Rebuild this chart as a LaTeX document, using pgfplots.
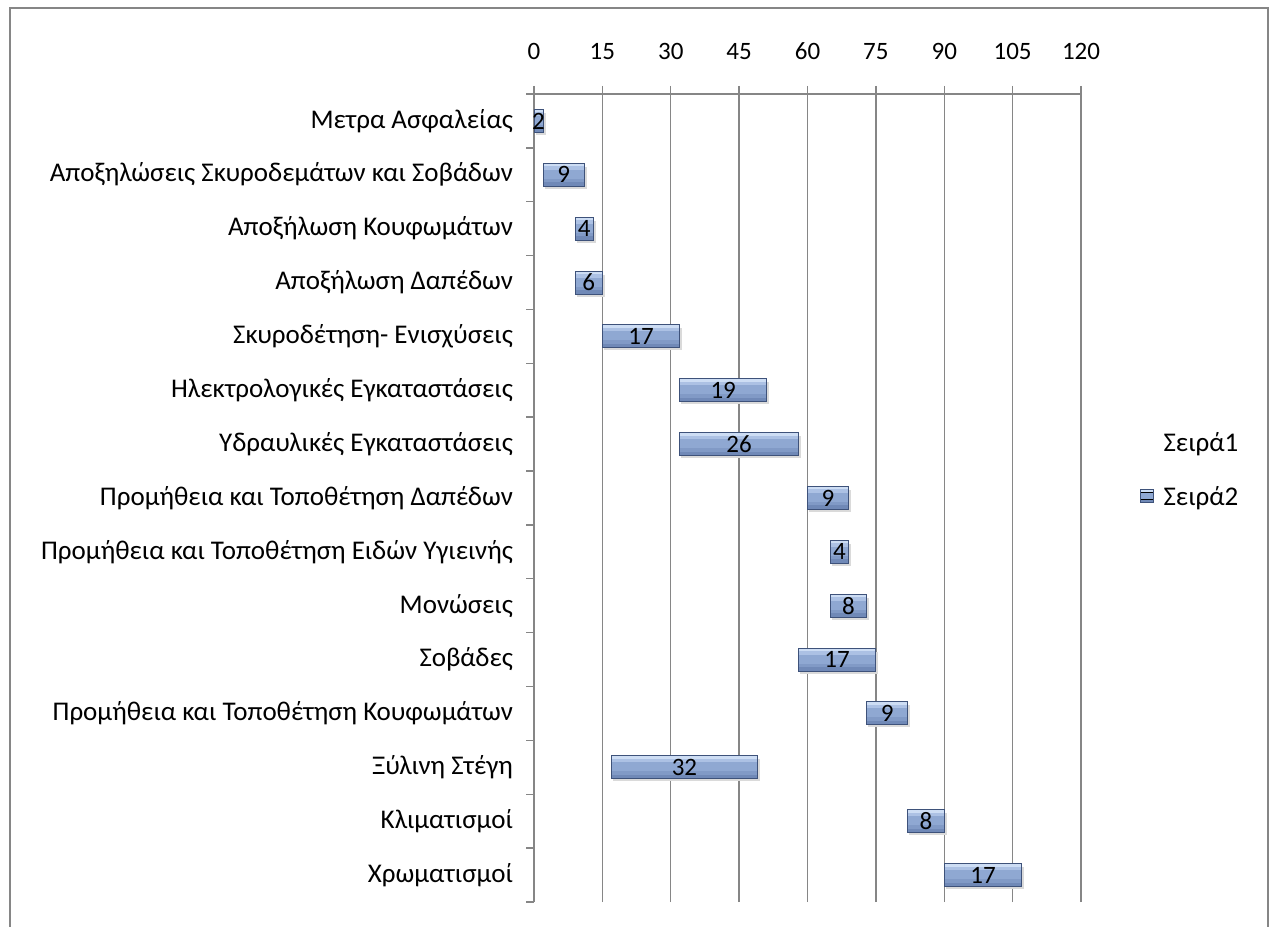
\documentclass[border=0pt]{standalone}
\usepackage{fontspec}
\setmainfont{Carlito}
\usepackage{pgfplots}
\usepackage{pgfplotstable}
\pgfplotsset{compat=1.18}
\definecolor{axgray}{RGB}{134,134,134}
\definecolor{bartop}{RGB}{205,221,244}
\definecolor{barhi}{RGB}{172,193,228}
\definecolor{barmid}{RGB}{143,168,210}
\definecolor{barlo}{RGB}{129,154,198}
\definecolor{barbot}{RGB}{112,137,183}
\definecolor{bardraw}{RGB}{62,82,122}
\definecolor{shadow}{RGB}{218,218,218}
\newcommand{\lbl}{\fontsize{27}{32}\selectfont}
\newcommand{\numf}{\fontsize{25}{30}\selectfont}
\newcommand{\ux}{4.558333pt}
\pgfplotstableread{
y start dur
0 90 17
1 82 8
2 17 32
3 73 9
4 58 17
5 65 8
6 65 4
7 60 9
8 32 26
9 32 19
10 15 17
11 9 6
12 9 4
13 2 9
14 0 2
}\gantt
\begin{document}
\begin{tikzpicture}
\useasboundingbox (0,0) rectangle (1276pt,926pt);
\draw[axgray, line width=2pt] (10pt,-10pt) -- (10pt,918pt) -- (1268pt,918pt) -- (1268pt,-10pt);
\begin{axis}[
  scale only axis,
  width=547pt, height=808pt,
  at={(534pt,24pt)}, anchor=south west,
  xmin=0, xmax=120,
  ymin=-0.5, ymax=14.5,
  clip=false,
  axis x line*=top,
  axis y line*=left,
  axis line style={axgray, line width=1.4pt},
  xtick={0,15,...,120},
  xmajorgrids,
  grid style={axgray, line width=1.4pt},
  tick align=outside,
  major tick length=8pt,
  tick style={axgray, line width=1.4pt},
  xticklabel style={font=\numf, yshift=23pt},
  /pgf/number format/assume math mode=true,
  ytick={-0.5,0.5,...,14.5},
  yticklabels={},
  extra y ticks={0,1,...,14},
  extra y tick labels={Χρωματισμοί,Κλιματισμοί,Ξύλινη Στέγη,Προμήθεια και Τοποθέτηση Κουφωμάτων,Σοβάδες,Μονώσεις,Προμήθεια και Τοποθέτηση Ειδών Υγιεινής,Προμήθεια και Τοποθέτηση Δαπέδων,Υδραυλικές Εγκαταστάσεις,Ηλεκτρολογικές Εγκαταστάσεις,Σκυροδέτηση- Ενισχύσεις,Αποξήλωση Δαπέδων,Αποξήλωση Κουφωμάτων,Αποξηλώσεις Σκυροδεμάτων και Σοβάδων,Μετρα Ασφαλείας},
  extra y tick style={major tick length=0pt, tick style={draw=none}, yticklabel style={font=\lbl, xshift=-17.5pt}},
  legend style={draw=none, fill=none, font=\lbl, at={(1,0.535)}, anchor=west, xshift=56pt, row sep=29pt, cells={anchor=west}},
]
\addlegendimage{legend image code/.code={\path[draw=none, fill=none] (0pt,-6pt) rectangle (21pt,6pt);}}
\addlegendentry{Σειρά1}
\addlegendimage{legend image code/.code={\path[draw=none, fill=none] (0pt,-6pt) rectangle (21pt,6pt);
   \fill[fill=barmid] (0pt,-6pt) rectangle (13pt,7pt);
   \fill[fill=bartop] (0pt,4pt) rectangle (13pt,7pt);
   \fill[fill=barbot] (0pt,-6pt) rectangle (13pt,-3pt);
   \draw[draw=bardraw, line width=0.8pt] (0pt,-6pt) rectangle (13pt,7pt);}}
\addlegendentry{Σειρά2}
\addplot[scatter, only marks, mark=*, mark size=0pt,
  visualization depends on={\thisrow{dur} \as \dur},
  scatter/@pre marker code/.code={%
    \fill[fill=shadow, draw=none] (1.5pt,-14pt) rectangle ({\dur*\ux+2.5pt},8pt);
    \fill[fill=barmid, draw=none] (0pt,-11.5pt) rectangle ({\dur*\ux},11.5pt);
    \fill[fill=barhi, draw=none] (0pt,5pt) rectangle ({\dur*\ux},8.5pt);
    \fill[fill=bartop, draw=none] (0pt,8.5pt) rectangle ({\dur*\ux},11.5pt);
    \fill[fill=barlo, draw=none] (0pt,-7.5pt) rectangle ({\dur*\ux},-4pt);
    \fill[fill=barbot, draw=none] (0pt,-11.5pt) rectangle ({\dur*\ux},-7.5pt);
    \draw[draw=bardraw, fill=none, line width=1pt] (0pt,-11.5pt) rectangle ({\dur*\ux},11.5pt);
    \node[font=\numf, text=black, inner sep=0pt] at ({\dur*\ux/2},0pt) {\pgfmathprintnumber{\dur}};
  },
  scatter/@post marker code/.code={},
] table[x=start, y=y] {\gantt};
\end{axis}
\end{tikzpicture}
\end{document}
